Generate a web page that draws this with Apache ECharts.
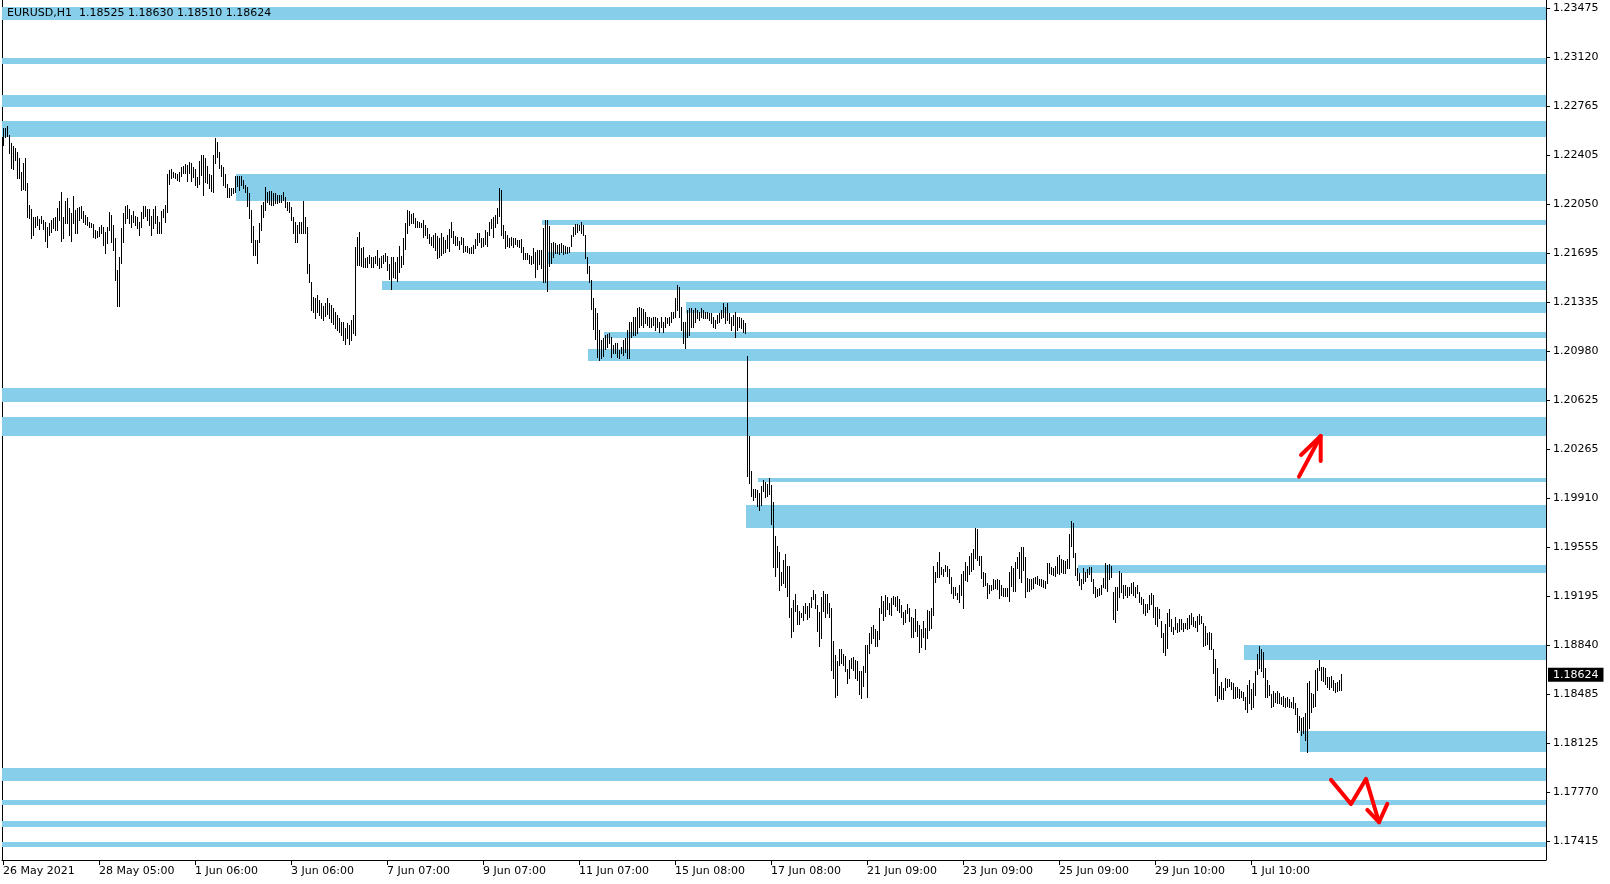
<!DOCTYPE html>
<html><head><meta charset="utf-8">
<script src="https://cdn.jsdelivr.net/npm/echarts@6/dist/echarts.min.js"></script>
<style>html,body{margin:0;padding:0;background:#fff}#c{width:1610px;height:884px}</style>
</head><body><div id="c"></div>
<script>
// ---- data ----
const headerText = 'EURUSD,H1  1.18525 1.18630 1.18510 1.18624';
const lastClose = 1.18624;

const highs = [
1.22604,1.22604,1.22618,1.22553,1.22494,1.22473,1.22458,1.22429,1.22385,1.22283,
1.22349,1.22385,1.22203,1.22043,1.22014,1.21956,1.21956,1.21963,1.21941,1.21963,
1.21934,1.21919,1.21883,1.21912,1.21934,1.21949,1.21956,1.22021,1.22072,1.22138,
1.21956,1.22072,1.22094,1.22021,1.21985,1.22109,1.22007,1.22021,1.22029,1.22036,
1.22000,1.21970,1.21956,1.21919,1.21912,1.21905,1.21861,1.21854,1.21883,1.21898,
1.21883,1.21847,1.21883,1.21992,1.21970,1.21898,1.21803,1.21570,1.21665,1.21876,
1.21985,1.22036,1.22043,1.22014,1.21970,1.22000,1.21963,1.21956,1.21919,1.21992,
1.22036,1.22036,1.22014,1.22014,1.21963,1.22014,1.22036,1.21963,1.21919,1.22000,
1.22014,1.22043,1.22269,1.22298,1.22305,1.22283,1.22276,1.22269,1.22283,1.22320,
1.22327,1.22342,1.22334,1.22356,1.22349,1.22320,1.22305,1.22247,1.22363,1.22407,
1.22407,1.22385,1.22327,1.22269,1.22261,1.22407,1.22531,1.22502,1.22429,1.22334,
1.22320,1.22269,1.22196,1.22167,1.22167,1.22167,1.22254,1.22254,1.22254,1.22254,
1.22225,1.22189,1.22174,1.22130,1.22007,1.21890,1.21788,1.21788,1.21912,1.22043,
1.22065,1.22174,1.22138,1.22145,1.22145,1.22130,1.22130,1.22116,1.22116,1.22116,
1.22138,1.22101,1.22065,1.22065,1.22029,1.21956,1.21919,1.21898,1.21919,1.21919,
1.22072,1.21956,1.21883,1.21614,1.21482,1.21373,1.21366,1.21388,1.21352,1.21330,
1.21308,1.21330,1.21366,1.21330,1.21315,1.21294,1.21264,1.21243,1.21221,1.21192,
1.21192,1.21148,1.21184,1.21170,1.21206,1.21243,1.21738,1.21810,1.21847,1.21730,
1.21738,1.21657,1.21665,1.21679,1.21665,1.21665,1.21672,1.21716,1.21657,1.21672,
1.21679,1.21694,1.21672,1.21614,1.21665,1.21665,1.21628,1.21665,1.21745,1.21672,
1.21803,1.21912,1.22007,1.22000,1.21978,1.21985,1.21949,1.21927,1.21919,1.21912,
1.21934,1.21898,1.21876,1.21832,1.21810,1.21825,1.21839,1.21818,1.21803,1.21839,
1.21810,1.21788,1.21825,1.21869,1.21919,1.21854,1.21818,1.21810,1.21781,1.21810,
1.21803,1.21745,1.21745,1.21730,1.21738,1.21752,1.21796,1.21839,1.21839,1.21803,
1.21803,1.21861,1.21847,1.21919,1.21941,1.21956,1.21970,1.22021,1.22167,1.22152,
1.21898,1.21854,1.21825,1.21803,1.21810,1.21803,1.21803,1.21788,1.21788,1.21796,
1.21738,1.21694,1.21694,1.21679,1.21672,1.21730,1.21701,1.21716,1.21716,1.21716,
1.21876,1.21934,1.21934,1.21890,1.21767,1.21774,1.21767,1.21752,1.21759,1.21767,
1.21752,1.21745,1.21738,1.21738,1.21825,1.21883,1.21905,1.21905,1.21898,1.21919,
1.21898,1.21825,1.21665,1.21599,1.21497,1.21366,1.21294,1.21257,1.21133,1.21061,
1.21075,1.21097,1.21104,1.21112,1.21083,1.21024,1.21039,1.21039,1.20988,1.21010,
1.21061,1.21075,1.21133,1.21192,1.21192,1.21228,1.21228,1.21294,1.21301,1.21294,
1.21286,1.21264,1.21228,1.21228,1.21221,1.21228,1.21228,1.21221,1.21192,1.21228,
1.21192,1.21228,1.21221,1.21228,1.21264,1.21264,1.21366,1.21460,1.21446,1.21301,
1.21192,1.21192,1.21279,1.21294,1.21294,1.21279,1.21294,1.21279,1.21264,1.21294,
1.21279,1.21264,1.21264,1.21257,1.21257,1.21228,1.21206,1.21243,1.21257,1.21279,
1.21330,1.21301,1.21330,1.21257,1.21228,1.21243,1.21264,1.21228,1.21228,1.21221,
1.21206,1.21184,1.20944,1.20362,1.20107,1.19976,1.19976,1.19969,1.19947,1.19998,
1.20042,1.20027,1.20013,1.20056,1.20005,1.19882,1.19634,1.19562,1.19518,1.19372,
1.19460,1.19503,1.19416,1.19416,1.19110,1.19169,1.19212,1.19132,1.19089,1.19074,
1.19125,1.19147,1.19125,1.19147,1.19190,1.19241,1.19212,1.19132,1.19081,1.19190,
1.19234,1.19212,1.19212,1.19147,1.19110,1.18870,1.18769,1.18725,1.18812,1.18812,
1.18776,1.18761,1.18666,1.18732,1.18746,1.18754,1.18732,1.18725,1.18652,1.18652,
1.18688,1.18841,1.18841,1.18928,1.18972,1.18987,1.18957,1.18943,1.19110,1.19198,
1.19161,1.19205,1.19190,1.19147,1.19183,1.19198,1.19190,1.19198,1.19176,1.19132,
1.19081,1.19096,1.19139,1.19110,1.19045,1.19037,1.19103,1.19016,1.18987,1.18957,
1.19016,1.18965,1.19096,1.19089,1.19110,1.19416,1.19372,1.19445,1.19518,1.19409,
1.19394,1.19423,1.19416,1.19394,1.19336,1.19263,1.19263,1.19219,1.19278,1.19358,
1.19380,1.19445,1.19416,1.19489,1.19511,1.19540,1.19693,1.19685,1.19489,1.19489,
1.19372,1.19365,1.19292,1.19278,1.19278,1.19321,1.19314,1.19321,1.19314,1.19278,
1.19256,1.19256,1.19256,1.19372,1.19416,1.19401,1.19445,1.19481,1.19518,1.19554,
1.19554,1.19481,1.19329,1.19321,1.19321,1.19329,1.19336,1.19343,1.19321,1.19321,
1.19314,1.19307,1.19438,1.19438,1.19409,1.19401,1.19416,1.19481,1.19496,1.19467,
1.19460,1.19452,1.19467,1.19649,1.19743,1.19729,1.19511,1.19401,1.19365,1.19321,
1.19401,1.19372,1.19394,1.19409,1.19409,1.19321,1.19263,1.19249,1.19256,1.19278,
1.19329,1.19438,1.19423,1.19430,1.19416,1.19227,1.19263,1.19263,1.19380,1.19365,
1.19278,1.19278,1.19263,1.19263,1.19292,1.19300,1.19263,1.19278,1.19227,1.19190,
1.19176,1.19139,1.19139,1.19205,1.19219,1.19205,1.19118,1.19118,1.19103,1.19016,
1.18928,1.18994,1.19074,1.19103,1.19030,1.18972,1.19045,1.19001,1.19030,1.19030,
1.19001,1.19001,1.19037,1.19059,1.19074,1.19045,1.19016,1.19052,1.19067,1.19052,
1.19001,1.18979,1.18928,1.18936,1.18928,1.18812,1.18739,1.18674,1.18543,1.18572,
1.18528,1.18601,1.18593,1.18593,1.18572,1.18565,1.18535,1.18535,1.18521,1.18506,
1.18499,1.18463,1.18550,1.18586,1.18521,1.18565,1.18652,1.18776,1.18834,1.18812,
1.18790,1.18674,1.18586,1.18550,1.18484,1.18506,1.18492,1.18506,1.18492,1.18463,
1.18470,1.18455,1.18463,1.18448,1.18426,1.18463,1.18419,1.18383,1.18324,1.18310,
1.18317,1.18346,1.18565,1.18579,1.18492,1.18484,1.18659,1.18674,1.18732,1.18681,
1.18681,1.18674,1.18608,1.18608,1.18615,1.18586,1.18565,1.18572,1.18586,1.18630
];
const lows = [
1.22480,1.22538,1.22545,1.22422,1.22312,1.22305,1.22371,1.22240,1.22240,1.22152,
1.22160,1.22152,1.21956,1.21949,1.21803,1.21825,1.21883,1.21898,1.21869,1.21912,
1.21869,1.21781,1.21738,1.21825,1.21847,1.21876,1.21861,1.21861,1.21934,1.21781,
1.21803,1.21912,1.21912,1.21825,1.21781,1.21912,1.21839,1.21839,1.21934,1.21949,
1.21919,1.21905,1.21898,1.21883,1.21883,1.21810,1.21803,1.21810,1.21818,1.21839,
1.21752,1.21694,1.21767,1.21861,1.21774,1.21716,1.21497,1.21308,1.21308,1.21621,
1.21774,1.21912,1.21949,1.21912,1.21883,1.21919,1.21898,1.21876,1.21825,1.21883,
1.21949,1.21963,1.21934,1.21898,1.21825,1.21876,1.21912,1.21839,1.21839,1.21839,
1.21956,1.21919,1.21992,1.22196,1.22240,1.22247,1.22240,1.22225,1.22218,1.22254,
1.22276,1.22276,1.22218,1.22276,1.22218,1.22247,1.22189,1.22174,1.22196,1.22261,
1.22116,1.22211,1.22203,1.22167,1.22145,1.22138,1.22349,1.22392,1.22312,1.22254,
1.22189,1.22174,1.22101,1.22101,1.22116,1.22130,1.22138,1.22181,1.22152,1.22189,
1.22167,1.22138,1.22036,1.21949,1.21774,1.21679,1.21679,1.21621,1.21774,1.21861,
1.21956,1.22007,1.22065,1.22050,1.22043,1.22043,1.22058,1.22058,1.22065,1.22065,
1.22080,1.22029,1.22007,1.21992,1.21934,1.21839,1.21774,1.21774,1.21839,1.21839,
1.21839,1.21839,1.21548,1.21482,1.21279,1.21264,1.21221,1.21264,1.21243,1.21221,
1.21206,1.21235,1.21250,1.21221,1.21192,1.21177,1.21148,1.21133,1.21119,1.21097,
1.21061,1.21032,1.21075,1.21032,1.21061,1.21112,1.21097,1.21606,1.21606,1.21599,
1.21592,1.21592,1.21592,1.21621,1.21592,1.21592,1.21621,1.21606,1.21585,1.21592,
1.21621,1.21636,1.21570,1.21505,1.21432,1.21519,1.21512,1.21490,1.21556,1.21592,
1.21614,1.21723,1.21839,1.21898,1.21912,1.21912,1.21883,1.21883,1.21883,1.21883,
1.21810,1.21825,1.21803,1.21767,1.21752,1.21738,1.21716,1.21657,1.21665,1.21679,
1.21694,1.21701,1.21730,1.21708,1.21810,1.21767,1.21752,1.21752,1.21723,1.21759,
1.21701,1.21708,1.21701,1.21694,1.21694,1.21694,1.21730,1.21752,1.21774,1.21738,
1.21745,1.21759,1.21745,1.21825,1.21876,1.21810,1.21883,1.21912,1.21963,1.21825,
1.21803,1.21730,1.21745,1.21738,1.21752,1.21738,1.21759,1.21745,1.21738,1.21701,
1.21650,1.21650,1.21650,1.21621,1.21614,1.21621,1.21519,1.21577,1.21614,1.21585,
1.21482,1.21482,1.21417,1.21599,1.21621,1.21665,1.21694,1.21694,1.21686,1.21701,
1.21686,1.21694,1.21694,1.21701,1.21745,1.21818,1.21832,1.21847,1.21861,1.21839,
1.21825,1.21657,1.21548,1.21482,1.21286,1.21141,1.21068,1.20937,1.20915,1.20930,
1.20944,1.20995,1.21010,1.21039,1.20937,1.20966,1.20966,1.20937,1.20930,1.20966,
1.20952,1.20973,1.20930,1.20930,1.21083,1.21097,1.21097,1.21112,1.21155,1.21170,
1.21155,1.21184,1.21170,1.21155,1.21155,1.21170,1.21133,1.21155,1.21119,1.21155,
1.21119,1.21155,1.21184,1.21170,1.21192,1.21221,1.21228,1.21279,1.21228,1.21133,
1.21039,1.21002,1.21083,1.21097,1.21155,1.21155,1.21192,1.21221,1.21206,1.21228,
1.21221,1.21221,1.21221,1.21206,1.21184,1.21155,1.21148,1.21184,1.21192,1.21221,
1.21228,1.21184,1.21206,1.21184,1.21133,1.21170,1.21083,1.21133,1.21155,1.21148,
1.21119,1.21112,1.20071,1.20020,1.19925,1.19896,1.19918,1.19853,1.19824,1.19860,
1.19962,1.19918,1.19925,1.19940,1.19722,1.19409,1.19343,1.19409,1.19241,1.19278,
1.19292,1.19263,1.19198,1.19045,1.18899,1.18943,1.19089,1.18994,1.18994,1.19045,
1.19023,1.19074,1.19030,1.19045,1.19118,1.19176,1.19110,1.18943,1.18834,1.18892,
1.19089,1.19045,1.19074,1.19045,1.18659,1.18601,1.18463,1.18477,1.18696,1.18710,
1.18696,1.18652,1.18565,1.18601,1.18674,1.18659,1.18601,1.18586,1.18484,1.18455,
1.18543,1.18645,1.18463,1.18783,1.18856,1.18892,1.18834,1.18834,1.18885,1.19074,
1.19023,1.19052,1.19103,1.19067,1.19059,1.19139,1.19125,1.19096,1.19081,1.19045,
1.18994,1.19008,1.19074,1.19016,1.18899,1.18899,1.18943,1.18907,1.18790,1.18827,
1.18899,1.18812,1.18892,1.18950,1.18965,1.19059,1.19300,1.19336,1.19336,1.19358,
1.19343,1.19380,1.19343,1.19292,1.19219,1.19183,1.19205,1.19176,1.19154,1.19205,
1.19110,1.19314,1.19307,1.19358,1.19380,1.19394,1.19474,1.19460,1.19423,1.19329,
1.19270,1.19278,1.19183,1.19219,1.19241,1.19249,1.19256,1.19249,1.19183,1.19205,
1.19198,1.19198,1.19198,1.19161,1.19270,1.19234,1.19234,1.19401,1.19329,1.19300,
1.19387,1.19190,1.19234,1.19234,1.19249,1.19256,1.19292,1.19285,1.19278,1.19270,
1.19263,1.19256,1.19292,1.19365,1.19358,1.19350,1.19343,1.19365,1.19358,1.19372,
1.19365,1.19365,1.19401,1.19401,1.19562,1.19481,1.19350,1.19314,1.19278,1.19249,
1.19292,1.19307,1.19336,1.19358,1.19307,1.19219,1.19190,1.19198,1.19205,1.19212,
1.19263,1.19256,1.19234,1.19321,1.19336,1.19030,1.19008,1.19096,1.19190,1.19227,
1.19183,1.19205,1.19190,1.19205,1.19219,1.19205,1.19190,1.19219,1.19154,1.19139,
1.19074,1.19059,1.19081,1.19103,1.19139,1.19045,1.18994,1.18979,1.19038,1.18899,
1.18790,1.18769,1.18819,1.18979,1.18943,1.18921,1.18957,1.18936,1.18943,1.18957,
1.18943,1.18965,1.18957,1.18965,1.18994,1.18979,1.18972,1.18943,1.18994,1.19001,
1.18834,1.18841,1.18848,1.18812,1.18812,1.18637,1.18477,1.18433,1.18455,1.18448,
1.18448,1.18514,1.18535,1.18543,1.18521,1.18455,1.18455,1.18463,1.18455,1.18463,
1.18441,1.18375,1.18353,1.18419,1.18375,1.18390,1.18477,1.18630,1.18674,1.18652,
1.18608,1.18463,1.18463,1.18477,1.18390,1.18397,1.18426,1.18419,1.18419,1.18412,
1.18397,1.18390,1.18397,1.18390,1.18390,1.18383,1.18339,1.18208,1.18222,1.18186,
1.18201,1.18150,1.18062,1.18237,1.18353,1.18390,1.18397,1.18514,1.18659,1.18586,
1.18579,1.18557,1.18535,1.18521,1.18535,1.18514,1.18499,1.18506,1.18514,1.18510
];

const timeLabels = ['26 May 2021','28 May 05:00','1 Jun 06:00','3 Jun 06:00','7 Jun 07:00','9 Jun 07:00','11 Jun 07:00','15 Jun 08:00','17 Jun 08:00','21 Jun 09:00','23 Jun 09:00','25 Jun 09:00','29 Jun 10:00','1 Jul 10:00'];
const timeLabelIdx = [0,48,96,144,192,240,288,336,384,432,480,528,576,624];
const priceTicks = [1.23475,1.23120,1.22765,1.22405,1.22050,1.21695,1.21335,1.20980,1.20625,1.20265,1.19910,1.19555,1.19195,1.18840,1.18485,1.18125,1.17770,1.17415];
const slotCount = 772;
const priceMin = 1.17276, priceMax = 1.23535;

// zones: start bar, top price, bottom price
const zoneStart  = [0,0,0,0,117,270,273,190,342,301,293,0,0,378,372,538,621,649,0,0,0,0];
const zoneTop    = [1.23486,1.23115,1.22844,1.22654,1.22269,1.21934,1.21701,1.21490,1.21337,1.21121,1.20995,1.20714,1.20502,1.20059,1.19860,1.19423,1.18841,1.18215,1.17946,1.17715,1.17560,1.17410];
const zoneBottom = [1.23389,1.23069,1.22759,1.22538,1.22072,1.21898,1.21614,1.21425,1.21255,1.21077,1.20908,1.20612,1.20362,1.20027,1.19695,1.19367,1.18732,1.18065,1.17854,1.17673,1.17519,1.17373];

// hand-drawn red arrows (bar index, price)
const arrowUp = [
  [[648,1.20066],[658.85,1.20362]],
  [[649,1.20224],[658.85,1.20362],[658.85,1.20180]]
];
const arrowDown = [
  [[664,1.17859],[674,1.17684],[681.5,1.17866],[688,1.17551]],
  [[682.15,1.17640],[688,1.17551],[692.15,1.17684]]
];
const arrows = [arrowUp, arrowDown];

// ---- chart ----
const FONT = 'DejaVu Sans';
const chart = echarts.init(document.getElementById('c'), null, {renderer:'canvas'});

const barData = highs.map((h,i)=>[i,h,lows[i]]);
const zoneData = zoneStart.map((s,i)=>[s,zoneTop[i],zoneBottom[i]]);
const arrowData = arrows.map(a=>a[0][0]);

function renderBar(params, api){
  const i = api.value(0);
  const t = api.coord([i, api.value(1)]);
  const b = api.coord([i, api.value(2)]);
  const x = Math.floor(t[0]) + 0.5;
  return {type:'line', shape:{x1:x, y1:Math.round(t[1]), x2:x, y2:Math.round(b[1])+1},
          style:{stroke:'#000', lineWidth:1}};
}
function renderZone(params, api){
  const s = api.value(0);
  const p1 = api.coord([s-0.5, api.value(1)]);
  const p2 = api.coord([s-0.5, api.value(2)]);
  const right = params.coordSys.x + params.coordSys.width;
  const x0 = Math.round(p1[0]), y0 = Math.round(p1[1]), y1 = Math.round(p2[1]);
  return {type:'rect', shape:{x:x0, y:y0, width:right-x0, height:Math.max(1,y1-y0)},
          style:{fill:'#87CEEB'}};
}
function renderArrow(params, api){
  const a = arrows[params.dataIndex];
  return {type:'group', children:a.map(line=>({
    type:'polyline', shape:{points:line.map(p=>api.coord(p))},
    style:{stroke:'#FF0000', lineWidth:4, fill:null, lineJoin:'round', lineCap:'round'}
  }))};
}

const option = {
  animation:false,
  backgroundColor:'#ffffff',
  textStyle:{fontFamily:FONT},
  title:{text:headerText, left:7, top:7, padding:0,
    textStyle:{fontFamily:FONT, fontSize:11, fontWeight:'normal', color:'#000', lineHeight:12}},
  grid:{left:2, right:64, top:0, bottom:24, containLabel:false},
  xAxis:{type:'value', min:-0.5, max:slotCount-0.5,
    axisLine:{show:true, onZero:false, lineStyle:{color:'#000', width:1}},
    axisTick:{show:true, length:5, lineStyle:{color:'#000'}, customValues:timeLabelIdx},
    axisLabel:{show:true, customValues:timeLabelIdx, align:'left', margin:6,
      fontFamily:FONT, fontSize:11, color:'#000',
      formatter:v=>timeLabels[timeLabelIdx.indexOf(v)] || ''},
    splitLine:{show:false}},
  yAxis:[
    {type:'value', position:'right', min:priceMin, max:priceMax,
      axisLine:{show:true, onZero:false, lineStyle:{color:'#000', width:1}},
      axisTick:{show:true, length:4, lineStyle:{color:'#000'}, customValues:priceTicks},
      axisLabel:{show:true, customValues:priceTicks, margin:7, fontFamily:FONT, fontSize:11, color:'#000',
        formatter:v=>v.toFixed(5)},
      splitLine:{show:false}},
    {type:'value', position:'right', min:priceMin, max:priceMax,
      axisLine:{show:false, onZero:false}, axisTick:{show:false},
      axisLabel:{show:true, customValues:[lastClose], margin:2, fontFamily:FONT, fontSize:11,
        color:'#fff', backgroundColor:'#000', padding:[1,5,1,5], lineHeight:12,
        formatter:v=>v.toFixed(5)},
      splitLine:{show:false}},
    {type:'value', position:'left', min:priceMin, max:priceMax,
      axisLine:{show:true, onZero:false, lineStyle:{color:'#000', width:1}},
      axisTick:{show:false}, axisLabel:{show:false}, splitLine:{show:false}}
  ],
  series:[
    {type:'custom', name:'zones', renderItem:renderZone, data:zoneData, encode:{x:0, y:[1,2]}, z:1, silent:true, clip:true},
    {type:'custom', name:'EURUSD', renderItem:renderBar, data:barData, encode:{x:0, y:[1,2]}, z:3, silent:true, clip:true},
    {type:'custom', name:'arrows', renderItem:renderArrow, data:arrowData, encode:{x:0, y:1}, z:4, silent:true, clip:true}
  ]
};
chart.setOption(option);
</script>
</body></html>
